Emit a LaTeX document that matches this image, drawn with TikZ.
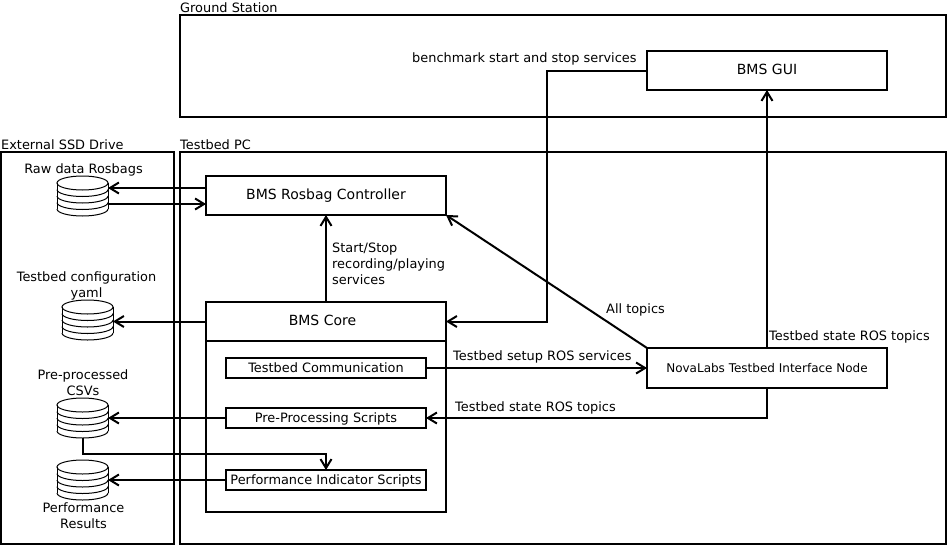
\documentclass[tikz,border=0pt]{standalone}
\usepackage{fontspec}
\setmainfont{DejaVu Sans}
\usetikzlibrary{arrows.meta}

\tikzset{
    block/.style={rectangle,draw,line width=2pt,inner sep=0pt,outer sep=0pt,minimum width=240pt,minimum height=39pt,text height=10.5pt,text depth=2pt,font=\fontsize{14}{16}\selectfont},
    subblock/.style={rectangle,draw,line width=2pt,inner sep=0pt,outer sep=0pt,minimum width=200pt,minimum height=20pt,text height=11pt,text depth=1.5pt,font=\fontsize{12.9}{16}\selectfont},
    frame/.style={rectangle,draw,line width=2pt,inner sep=0pt,outer sep=0pt},
    label/.style={anchor=west,inner sep=0pt,font=\fontsize{12.9}{16}\selectfont},
    stacklabel/.style={align=center,inner sep=0pt,font=\fontsize{12.9}{16}\selectfont},
    link/.style={line width=2pt,-{Straight Barb[length=9pt,width=11pt,line width=2pt]}}
}

\newcommand{\dbstack}[2]{
    \node[rectangle,inner sep=0pt,outer sep=0pt,minimum width=51pt,minimum height=40pt] (#1) at (#2) {};
    \draw[line width=1pt] ([xshift=25.5pt,yshift=-7pt]#1.north west) ellipse [x radius=25.5pt,y radius=7pt];
    \draw[line width=1pt] ([yshift=-7pt]#1.north west) -- ([yshift=7pt]#1.south west);
    \draw[line width=1pt] ([yshift=-7pt]#1.north east) -- ([yshift=7pt]#1.south east);
    \foreach \dy in {13.5,20,26.5,33}
        \draw[line width=1pt] ([yshift=-\dy pt]#1.north west) arc [start angle=180,end angle=360,x radius=25.5pt,y radius=7pt];
}

\begin{document}
\begin{tikzpicture}[x=1pt,y=-1pt]
    \useasboundingbox (0,0) rectangle (947,544);

    % outer frames
    \node[frame,minimum width=766pt,minimum height=102pt] (ground) at (563,66) {};
    \node[frame,minimum width=766pt,minimum height=392pt] (testbed) at (563,348) {};
    \node[frame,minimum width=173pt,minimum height=392pt] (ssd) at (87.5,348) {};
    \node[label] (groundlabel) at (180,8) {Ground Station};
    \node[label] (testbedlabel) at (180,145) {Testbed PC};
    \node[label] (ssdlabel) at (1,144.5) {External SSD Drive};

    % blocks
    \node[block] (gui) at (767,70.5) {BMS GUI};
    \node[block] (rosbag) at (326,195.5) {BMS Rosbag Controller};
    \node[block] (core) at (326,321.5) {BMS Core\kern7pt};
    \node[frame,minimum width=240pt,minimum height=171pt] (corebody) at (326,426.5) {};
    \node[subblock] (comm) at (326,368) {Testbed Communication};
    \node[subblock] (pre) at (326,418) {Pre-Processing Scripts};
    \node[subblock] (perf) at (326,480) {Performance Indicator Scripts};
    \node[block,font=\fontsize{12}{16}\selectfont,minimum height=40pt] (nova) at (767,368) {NovaLabs Testbed Interface Node};

    % disks
    \dbstack{rawdb}{82.5,196}
    \dbstack{configdb}{87.5,320}
    \dbstack{predb}{82.5,418}
    \dbstack{perfdb}{82.5,480}
    \node[stacklabel] (rawlabel) at (83.5,169.5) {Raw data Rosbags};
    \node[stacklabel] (configlabel) at (86.5,285.5) {Testbed configuration\\yaml};
    \node[stacklabel] (prelabel) at (83,382.5) {Pre-processed\\CSVs};
    \node[stacklabel] (perflabel) at (83.5,515.5) {Performance\\Results};

    % connectors
    \draw[link] ([yshift=7.5pt]rosbag.west) -- ([yshift=8pt]rawdb.east);
    \draw[link] ([yshift=-8pt]rawdb.east) -- ([yshift=-8.5pt]rosbag.west);
    \draw[link] (core.north) -- (rosbag.south);
    \draw[link] (core.west) -- (configdb.east |- core.west);
    \draw[link] (gui.west) -| (547,321.5) -- (core.east);
    \draw[link] (nova.north) -- (gui.south);
    \draw[link] (nova.north west) -- (rosbag.south east);
    \draw[link] (comm.east) -- (nova.west);
    \draw[link] (nova.south) |- (pre.east);
    \draw[link] (pre.west) -- (predb.east);
    \draw[link] (perf.west) -- (perfdb.east);
    \draw[link] (predb.south) |- (326,454) -- (perf.north);

    % connector labels
    \node[label] (servlabel) at (412,58.5) {benchmark start and stop services};
    \node[label,align=left] (startlabel) at (332,264) {Start/Stop\\recording/playing\\services};
    \node[label] (alllabel) at (606,309.5) {All topics};
    \node[label] (statelabel) at (769,336.5) {Testbed state ROS topics};
    \node[label] (setuplabel) at (453,356.5) {Testbed setup ROS services};
    \node[label] (prestatelabel) at (455,407.5) {Testbed state ROS topics};
\end{tikzpicture}
\end{document}
